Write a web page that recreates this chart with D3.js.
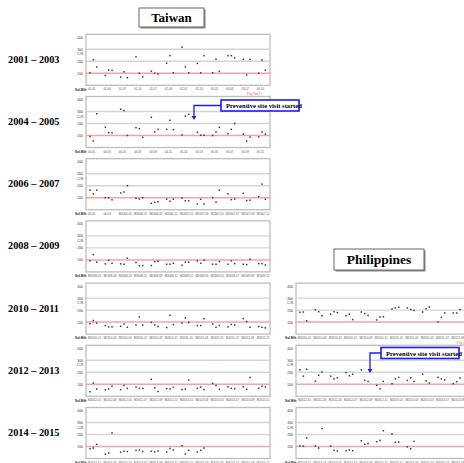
<!DOCTYPE html>
<html>
<head>
<meta charset="utf-8">
<script src="https://cdn.jsdelivr.net/npm/d3@7"></script>
<style>
  body { margin: 0; background: #fff; }
  svg { display: block; }
</style>
</head>
<body>
<svg id="chart" width="464" height="463"></svg>
<script>
// period labels on the left, one per Taiwan row
var periods = ["2001 \u2013 2003", "2004 \u2013 2005", "2006 \u2013 2007", "2008 \u2013 2009",
               "2010 \u2013 2011", "2012 \u2013 2013", "2014 \u2013 2015"];

var yTicks = [100, 200, 300, 400];

// C.R. values, three per tick group
var tw2001 = [105,213,153, 82,126,124, 68,113,63, 237,100,71, 118,100,95, 184,247,105,
              318,153,105, 182,105,247, 105,216,116, 247,247,229, 216,87,216, 100,211,126];
var tw2004 = [92,54,281, 168,124,122, 319,308,100, 165,157,84, 251,130,151, 151,227,149,
              105,262,276, 127,103,103, 100,130,168, 116,151,200, 111,54,86, 89,130,111];
var tw2006 = [163,132,163, 100,100,82, 139,147,200, 95,89,100, 53,61,66, 87,71,87,
              97,74,74, 47,87,47, 100,63,163, 132,84,89, 137,76,79, 108,213,87];
var tw2008 = [92,144,81, 67,97,72, 67,64,114, 78,50,53, 53,86,89, 64,64,72,
              56,81,81, 92,72,97, 64,64,86, 64,92,69, 64,61,106, 69,69,58];
var tw2010 = [87,113,92, 71,60,60, 65,84,57, 76,143,76, 97,76,63, 55,156,79,
              92,135,97, 71,71,129, 84,57,71, 60,81,76, 129,105,57, 63,57,52];
var tw2012 = [38,110,61, 53,61,84, 56,90,66, 77,66,66, 142,71,40, 64,61,74,
              56,61,136, 66,77,56, 108,90,58, 79,66,64, 79,58,157, 66,84,77];
var tw2014 = [82,87,118, 37,45,213, 53,61,58, 68,71,58, 61,55,63, 53,84,71,
              108,37,68, 53,68,87];

var ph2010 = [182,184,111, 203,187,153, 166,187,179, 153,166,121, 184,171,155, 118,142,145,
              208,218,224, 218,205,197, 184,211,226, 100,140,176, 176,176,205, 142,150,160];
var ph2012 = [221,168,226, 126,176,203, 168,145,155, 197,171,184, 221,134,124, 92,63,124,
              105,145,158, 132,153,124, 184,129,111, 158,145,137, 105,121,153, 139,150,130];
var ph2014 = [105,103,171, 105,87,249, 103,68,63, 65,71,65, 148,119,124, 140,151,231,
              204,135,137, 97,81,143];

// x tick labels
var lab2001 = ["01-01","01-04","01-07","01-10","02-01","02-04","02-07","02-10","03-01","03-04","03-07","03-10"];
var lab2004 = ["04-01","04-03","04-05","04-07","04-09","04-11","05-01","05-03","05-05","05-07","05-09","05-11"];
var lab2006 = ["06-01","06-03","M2006-05","M2006-07","M2006-09","M2006-11","M2007-01","M2007-03","M2007-05","M2007-07","M2007-09","M2007-11"];
var lab2008 = ["M2008-01","M2008-03","M2008-05","M2008-07","M2008-09","M2008-11","M2009-01","M2009-03","M2009-05","M2009-07","M2009-09","M2009-11"];
var lab2010 = ["M2010-01","M2010-03","M2010-05","M2010-07","M2010-09","M2010-11","M2011-01","M2011-03","M2011-05","M2011-07","M2011-09","M2011-11"];
var lab2012 = ["M2012-01","M2012-03","M2012-05","M2012-07","M2012-09","M2012-11","M2013-01","M2013-03","M2013-05","M2013-07","M2013-09","M2013-11"];
var lab2014 = ["M2014-01","M2014-03","M2014-05","M2014-07","M2014-09","M2014-11","M2015-01","M2015-03","M2015-05","M2015-07","M2015-09","M2015-11"];

var svg = d3.select("#chart");
var serif = "'Liberation Serif', 'Times New Roman', serif";
var sans = "'Liberation Sans', Arial, sans-serif";

function rowTop(i){ return 34.3 + 62.2 * i; }

function titleBox(x, y, w, h, text, size){
    svg.append("rect").attr("x", x + 1.5).attr("y", y + 1.5).attr("width", w).attr("height", h)
        .attr("fill", "#888");
    svg.append("rect").attr("x", x).attr("y", y).attr("width", w).attr("height", h)
        .attr("fill", "#fff").attr("stroke", "#666").attr("stroke-width", 1);
    svg.append("text").attr("x", x + w/2).attr("y", y + h/2 + size*0.35)
        .attr("text-anchor", "middle").attr("font-family", serif).attr("font-weight", "bold")
        .attr("font-size", size).text(text);
}

function panel(x0, T, values, labels, fig){
    var w = 184, h = 51;
    var g = svg.append("g");
    var xb = d3.scaleBand().domain(d3.range(12)).range([x0, x0 + w]);
    var xi = d3.scalePoint().domain([0, 1, 2]).range([4, 10.7]);
    var y = d3.scaleLinear().domain([0, 425]).range([T + h, T]);

    g.append("rect").attr("x", x0).attr("y", T).attr("width", w).attr("height", h)
        .attr("fill", "#fff").attr("stroke", "#bdbdbd").attr("stroke-width", 1.3);

    g.selectAll("line.grid").data([200, 300]).join("line").attr("class", "grid")
        .attr("x1", x0).attr("x2", x0 + w)
        .attr("y1", function(d){ return y(d); }).attr("y2", function(d){ return y(d); })
        .attr("stroke", "#d4d4d4").attr("stroke-width", 1.4);

    g.append("line").attr("x1", x0).attr("x2", x0 + w).attr("y1", y(100)).attr("y2", y(100))
        .attr("stroke", "#f4a4a4").attr("stroke-width", 1.5);

    var ya = g.append("g").attr("transform", "translate(" + x0 + ",0)")
        .call(d3.axisLeft(y).tickValues(yTicks).tickSize(0).tickPadding(3));
    ya.select(".domain").remove();
    ya.selectAll("text").attr("font-size", 3.4).attr("font-family", sans).attr("fill", "#333");

    g.append("text").attr("x", x0 - 9).attr("y", T + 21).attr("font-size", 3.6)
        .attr("font-family", sans).attr("fill", "#333").text("C.R.");

    var xa = g.append("g").attr("transform", "translate(0," + (T + h) + ")")
        .call(d3.axisBottom(xb).tickFormat(function(i){ return labels[i]; }).tickSize(0).tickPadding(3));
    xa.select(".domain").remove();
    xa.selectAll("text").attr("font-size", 2.9).attr("font-family", sans).attr("fill", "#555")
        .attr("text-anchor", "start").attr("dx", -5.6);

    g.append("text").attr("x", x0 - 11).attr("y", T + h + 5.3).attr("font-size", 3.2)
        .attr("font-weight", "bold").attr("font-family", sans).attr("fill", "#222").text("Sol.Mth");

    if(fig){
        g.append("text").attr("x", x0 + 176).attr("y", T + h + 10).attr("text-anchor", "end")
            .attr("font-size", 4).attr("font-family", serif).attr("fill", "#f05050").text("Fig 9b(1)");
    }

    g.selectAll("rect.pt").data(values).join("rect").attr("class", "pt")
        .attr("x", function(d, i){ return xb(Math.floor(i / 3)) + xi(i % 3) - 0.75; })
        .attr("y", function(d){ return y(d) - 0.75; })
        .attr("width", 1.5).attr("height", 1.5).attr("fill", "#3a3a3a");
}

function note(bx, by, ax, ay){
    svg.append("rect").attr("x", bx).attr("y", by).attr("width", 78).attr("height", 11)
        .attr("fill", "#fff").attr("stroke", "#1a1aff").attr("stroke-width", 1.6);
    svg.append("text").attr("x", bx + 5).attr("y", by + 8).attr("font-family", serif)
        .attr("font-weight", "bold").attr("font-size", 6.6).text("Preventive site visit started");
    var my = by + 5.5;
    svg.append("path").attr("d", "M" + bx + "," + my + "L" + ax + "," + my + "L" + ax + "," + (ay - 3))
        .attr("fill", "none").attr("stroke", "#1a1aff").attr("stroke-width", 1.3);
    svg.append("path").attr("d", "M" + (ax - 2.5) + "," + (ay - 4) + "L" + (ax + 2.5) + "," + (ay - 4) + "L" + ax + "," + ay + "Z")
        .attr("fill", "#1a1aff");
}

titleBox(139, 8, 65, 19, "Taiwan", 13);
titleBox(334, 249, 90, 21, "Philippines", 13.5);

var twData = [tw2001, tw2004, tw2006, tw2008, tw2010, tw2012, tw2014];
var twLabels = [lab2001, lab2004, lab2006, lab2008, lab2010, lab2012, lab2014];

periods.forEach(function(p, i){
    svg.append("text").attr("x", 8).attr("y", rowTop(i) + 28.5).attr("font-family", serif)
        .attr("font-weight", "bold").attr("font-size", 10.3).text(p);
    panel(86, rowTop(i), twData[i], twLabels[i], i === 0);
});

panel(296, rowTop(4), ph2010, lab2010, true);
panel(296, rowTop(5), ph2012, lab2012, false);
panel(296, rowTop(6), ph2014, lab2014, false);

note(221, 100, 194, 120);
note(381, 347.5, 370, 373);
</script>
</body>
</html>
